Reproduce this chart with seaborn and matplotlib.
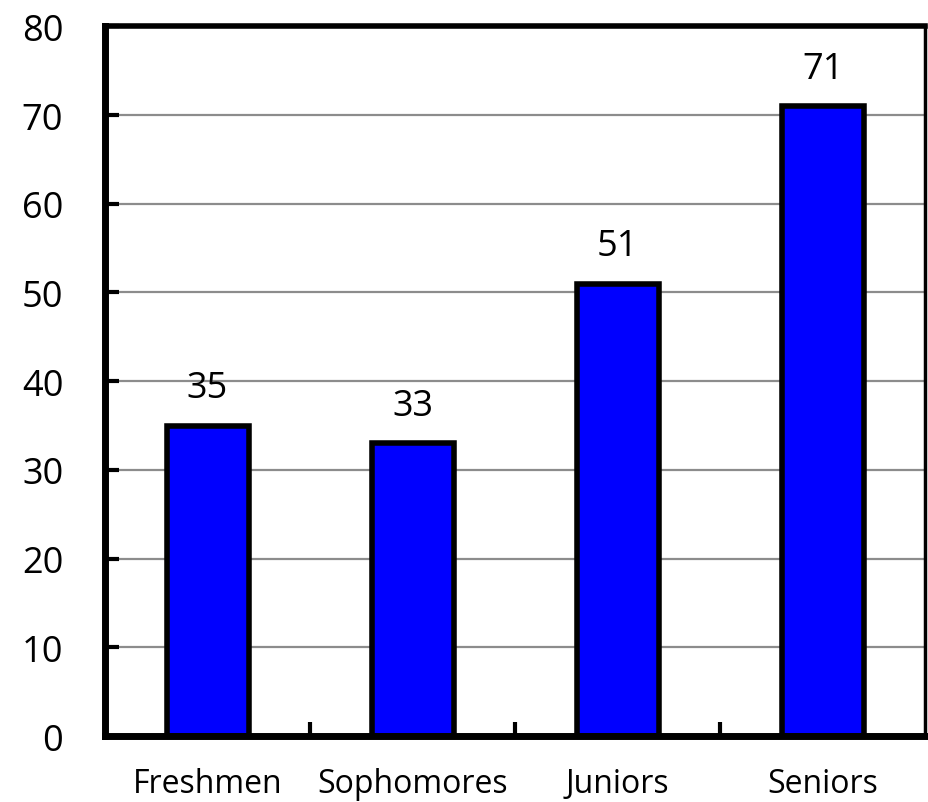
import matplotlib
matplotlib.use("Agg")
import matplotlib.pyplot as plt
import seaborn as sns
import pandas as pd

# class standing counts
classes = ["Freshmen", "Sophomores", "Juniors", "Seniors"]
counts = [35, 33, 51, 71]

df = pd.DataFrame({"cls": classes, "n": counts})

sns.set_style("white")
plt.rcParams["font.family"] = ["Open Sans", "DejaVu Sans"]
plt.rcParams["text.color"] = "black"
plt.rcParams["xtick.color"] = "black"
plt.rcParams["ytick.color"] = "black"

fig = plt.figure(figsize=(9.29, 8.03), dpi=100)
ax = fig.add_axes([0.113, 0.082, 0.883, 0.884])

sns.barplot(data=df, x="cls", y="n", color="#0000FF", saturation=1,
            width=0.4, edgecolor="black", linewidth=4, ax=ax, zorder=3)

for i, v in enumerate(counts):
    ax.text(i, v + 2.2, str(v), ha="center", va="bottom", fontsize=26, color="black")

ax.set_ylim(0, 80)
ax.set_xlim(-0.5, 3.5)
ax.set_yticks(range(0, 81, 10))
ax.yaxis.grid(True, color="#8c8c8c", linewidth=1.6, zorder=0)
ax.set_axisbelow(True)

# ticks at category boundaries
ax.set_xticks([0.5, 1.5, 2.5], minor=False)
ax.set_xticklabels([])
ax.set_xticks(range(4), minor=True)
ax.set_xticklabels(classes, minor=True, fontsize=23)
ax.tick_params(axis="x", which="major", bottom=True, direction="in", length=10, width=3, color="black")
ax.tick_params(axis="x", which="minor", bottom=True, length=0, pad=22)
ax.tick_params(axis="y", left=True, direction="in", length=10, width=3, color="black",
               labelsize=26, pad=30)

ax.spines["left"].set_linewidth(5)
ax.spines["bottom"].set_linewidth(5)
ax.spines["top"].set_linewidth(4)
ax.spines["right"].set_linewidth(2.5)
for s in ax.spines.values():
    s.set_color("black")
    s.set_zorder(5)

ax.set_xlabel("")
ax.set_ylabel("")

fig.savefig("out.png", dpi=100)
